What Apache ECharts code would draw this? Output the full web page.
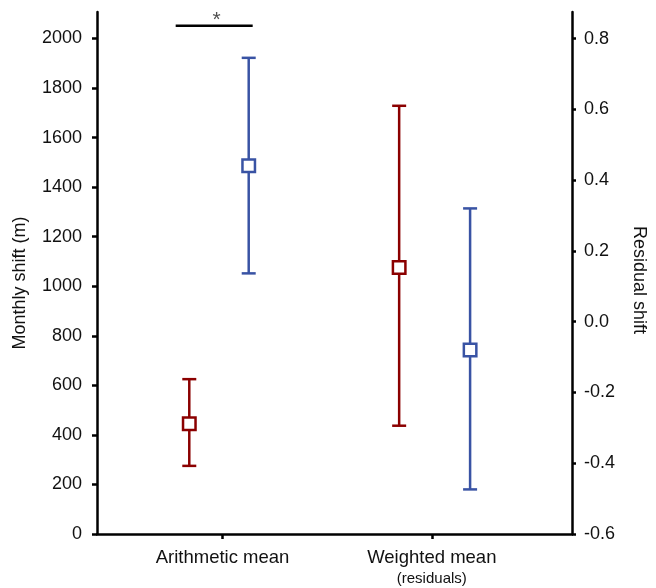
<!DOCTYPE html>
<html><head><meta charset="utf-8">
<script src="https://cdn.jsdelivr.net/npm/echarts@6/dist/echarts.min.js"></script>
<style>html,body{margin:0;padding:0;background:#fff}#c{width:656px;height:588px}</style>
</head><body><div id="c"></div>
<script>
// ---- data ----
const categories = ['Arithmetic mean', 'Weighted mean'];
const categorySub = ['', '(residuals)'];
const categoryPos = [1, 2];
const leftTicks = [0, 200, 400, 600, 800, 1000, 1200, 1400, 1600, 1800, 2000];
const rightTicks = [-0.6, -0.4, -0.2, 0.0, 0.2, 0.4, 0.6, 0.8];
// Arithmetic mean (left axis, m): [red, blue]
const arithX = [0.841, 1.125];
const arithMid = [445, 1486];
const arithLow = [275, 1052];
const arithHigh = [625, 1922];
// Weighted mean residuals (right axis): [red, blue]
const weightX = [1.844, 2.183];
const weightMid = [0.153, -0.080];
const weightLow = [-0.294, -0.474];
const weightHigh = [0.610, 0.320];
// significance bar
const sigX = [0.776, 1.144];
const sigY = 2051;
const sigStarX = 0.972;

const colors = ['#8b0000', '#3953a4'];
const FONT = 'Liberation Sans, Arial, sans-serif';

function errSeries(x, lo, hi, yIdx, color) {
  return {
    type: 'custom', yAxisIndex: yIdx, z: 2, silent: true,
    data: [[x, lo, hi]],
    renderItem: function (params, api) {
      const p1 = api.coord([api.value(0), api.value(1)]);
      const p2 = api.coord([api.value(0), api.value(2)]);
      const hw = 7;
      const st = { stroke: color, lineWidth: 2.5 };
      return { type: 'group', children: [
        { type: 'line', shape: { x1: p1[0], y1: p1[1], x2: p2[0], y2: p2[1] }, style: st },
        { type: 'line', shape: { x1: p1[0] - hw, y1: p1[1], x2: p1[0] + hw, y2: p1[1] }, style: st },
        { type: 'line', shape: { x1: p2[0] - hw, y1: p2[1], x2: p2[0] + hw, y2: p2[1] }, style: st }
      ]};
    }
  };
}
function boxSeries(x, y, yIdx, color) {
  return {
    type: 'scatter', yAxisIndex: yIdx, z: 5, silent: true,
    symbol: 'rect', symbolSize: 12.5,
    itemStyle: { color: '#fff', borderColor: color, borderWidth: 2.5, opacity: 1 },
    data: [[x, y]]
  };
}

const series = [];
for (let i = 0; i < 2; i++) {
  series.push(errSeries(arithX[i], arithLow[i], arithHigh[i], 0, colors[i]));
  series.push(boxSeries(arithX[i], arithMid[i], 0, colors[i]));
  series.push(errSeries(weightX[i], weightLow[i], weightHigh[i], 1, colors[i]));
  series.push(boxSeries(weightX[i], weightMid[i], 1, colors[i]));
}
series.push({
  type: 'line', yAxisIndex: 0, symbol: 'none', silent: true,
  lineStyle: { color: '#000', width: 2.5 },
  data: [[sigX[0], sigY], [sigX[1], sigY]]
});
series.push({
  type: 'scatter', yAxisIndex: 0, symbolSize: 0, silent: true,
  label: { show: true, formatter: '*', position: 'top', distance: -5, color: '#222', fontSize: 21, fontFamily: FONT },
  data: [[sigStarX, sigY]]
});

const axisLineStyle = { show: true, lineStyle: { color: '#000', width: 2.5 } };
const chart = echarts.init(document.getElementById('c'));
chart.setOption({
  animation: false,
  backgroundColor: '#fff',
  grid: { left: 97, right: 76, top: 12, bottom: 54, containLabel: false },
  xAxis: {
    type: 'value', min: 0.4, max: 2.67,
    axisLine: { show: true, onZero: false, lineStyle: { color: '#000', width: 2.5 } },
    splitLine: { show: false },
    axisTick: { show: true, customValues: categoryPos, length: 5, lineStyle: { color: '#000', width: 2.5 } },
    axisLabel: {
      customValues: categoryPos, margin: 13,
      formatter: function (v) {
        const i = categoryPos.indexOf(Math.round(v));
        if (i < 0) return '';
        return categorySub[i] ? '{a|' + categories[i] + '}\n{b|' + categorySub[i] + '}' : '{a|' + categories[i] + '}';
      },
      rich: {
        a: { fontSize: 18.5, fontFamily: FONT, color: '#111', lineHeight: 21 },
        b: { fontSize: 15, fontFamily: FONT, color: '#111', lineHeight: 22 }
      }
    }
  },
  yAxis: [
    {
      type: 'value', min: 0, max: 2107, position: 'left',
      name: 'Monthly shift (m)', nameLocation: 'middle', nameGap: 68, nameRotate: 90,
      nameTextStyle: { fontSize: 18, fontFamily: FONT, color: '#111', padding: [0, 20, 0, 0] },
      axisLine: axisLineStyle, splitLine: { show: false },
      axisTick: { show: true, customValues: leftTicks, length: 5, lineStyle: { color: '#000', width: 2.5 } },
      axisLabel: { customValues: leftTicks, margin: 15, fontSize: 18, fontFamily: FONT, color: '#111',
        formatter: function (v) { return String(Math.round(v)); } }
    },
    {
      type: 'value', min: -0.6, max: 0.875, position: 'right',
      name: 'Residual shift', nameLocation: 'middle', nameGap: 58, nameRotate: -90,
      nameTextStyle: { fontSize: 18, fontFamily: FONT, color: '#111', padding: [0, 0, 0, 14] },
      axisLine: axisLineStyle, splitLine: { show: false },
      axisTick: { show: true, customValues: rightTicks, length: 4, lineStyle: { color: '#000', width: 2.5 } },
      axisLabel: { customValues: rightTicks, margin: 12, fontSize: 18, fontFamily: FONT, color: '#111',
        formatter: function (v) { return v.toFixed(1); } }
    }
  ],
  series: series
});
</script></body></html>
